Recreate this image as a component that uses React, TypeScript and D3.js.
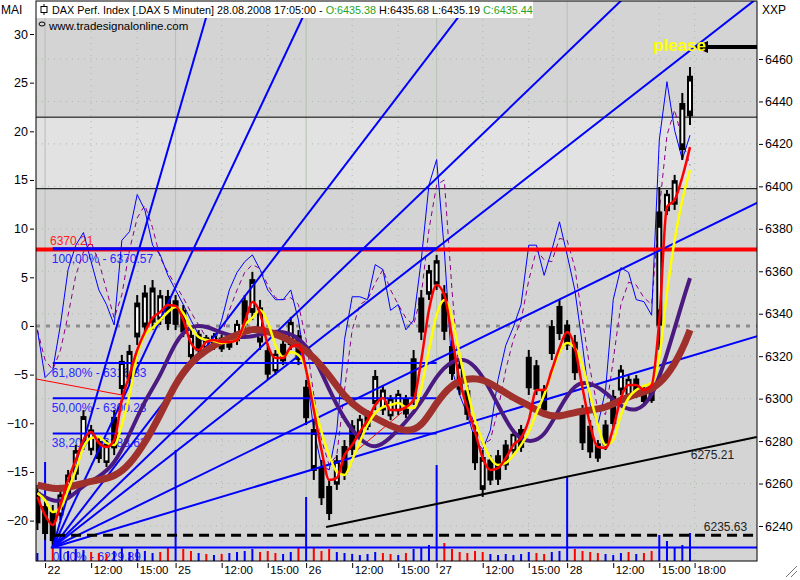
import React, { useEffect, useRef } from 'react';
import * as d3 from 'd3';

// 30 minute bars: index 0 = last bar of 21.08., days start at 1, 18, 35, 52, 69
const barHigh = [6259.3, 6252.2, 6249.9, 6257.0, 6266.4, 6278.2, 6294.6, 6287.6, 6281.9, 6280.5,
	6294.6, 6320.6, 6325.3, 6348.8, 6353.5, 6355.9, 6351.2, 6351.2, 6348.8, 6344.1,
	6332.3, 6332.3, 6330.0, 6330.9, 6330.0, 6330.0, 6337.0, 6348.8, 6359.7, 6346.5,
	6325.3, 6322.9, 6327.6, 6338.5, 6332.3, 6308.8, 6289.9, 6271.1, 6261.7, 6273.4,
	6280.5, 6289.9, 6292.3, 6294.6, 6313.5, 6306.4, 6301.7, 6304.1, 6301.7, 6322.9,
	6351.2, 6363.0, 6367.7, 6353.5, 6327.6, 6318.2, 6306.4, 6287.6, 6275.8, 6273.4,
	6275.8, 6280.5, 6285.2, 6287.6, 6322.9, 6318.2, 6306.4, 6337.0, 6346.5, 6337.0,
	6330.0, 6297.0, 6289.9, 6280.5, 6289.9, 6304.1, 6315.8, 6311.1, 6311.1, 6306.4,
	6304.1, 6399.7, 6398.3, 6405.4, 6444.0, 6456.2];
const barLow = [6238.1, 6233.4, 6229.9, 6242.8, 6252.2, 6261.7, 6275.8, 6273.4, 6269.7, 6267.8,
	6273.4, 6301.7, 6306.4, 6325.3, 6330.0, 6332.3, 6334.7, 6332.3, 6332.3, 6329.0,
	6317.3, 6320.6, 6322.9, 6322.9, 6322.0, 6322.9, 6325.3, 6332.3, 6337.0, 6322.9,
	6308.8, 6311.1, 6315.8, 6322.9, 6315.8, 6287.6, 6261.7, 6249.9, 6242.8, 6257.0,
	6261.7, 6273.4, 6280.5, 6285.2, 6294.6, 6292.3, 6289.9, 6292.3, 6290.9, 6297.0,
	6327.6, 6346.5, 6351.2, 6327.6, 6308.8, 6301.7, 6289.9, 6266.4, 6253.7, 6259.3,
	6259.3, 6266.4, 6273.4, 6274.9, 6301.7, 6301.7, 6292.3, 6318.2, 6327.6, 6322.9,
	6308.8, 6275.8, 6272.0, 6270.2, 6275.8, 6285.2, 6301.7, 6299.4, 6300.3, 6297.0,
	6298.0, 6322.9, 6386.5, 6388.9, 6412.4, 6428.9];
// red
const fastMA = [6253.7, 6245.2, 6240.5, 6249.9, 6261.7, 6271.1, 6280.5, 6284.3, 6279.1, 6277.2,
	6280.5, 6299.4, 6311.1, 6322.9, 6331.4, 6338.0, 6340.8, 6344.1, 6343.7, 6337.0,
	6326.2, 6322.9, 6326.7, 6327.6, 6326.7, 6326.7, 6327.6, 6336.1, 6345.5, 6340.3,
	6325.3, 6319.1, 6319.1, 6324.3, 6325.3, 6313.5, 6294.6, 6275.8, 6261.7, 6262.7,
	6273.4, 6278.2, 6284.3, 6289.9, 6297.0, 6300.3, 6294.6, 6294.6, 6296.0, 6299.4,
	6318.2, 6341.8, 6353.5, 6348.8, 6329.0, 6308.3, 6295.6, 6284.3, 6272.0, 6266.4,
	6267.3, 6272.0, 6278.2, 6281.5, 6289.9, 6304.1, 6304.1, 6313.5, 6323.9, 6331.4,
	6323.9, 6305.0, 6287.6, 6277.2, 6276.8, 6286.2, 6300.3, 6306.4, 6306.4, 6304.1,
	6306.4, 6337.0, 6390.3, 6393.6, 6404.4, 6418.5];
// yellow
const slowMA = [6255.5, 6252.2, 6246.6, 6248.5, 6257.0, 6266.4, 6277.2, 6281.5, 6281.9, 6279.1,
	6278.2, 6287.6, 6301.7, 6320.6, 6330.0, 6333.3, 6337.0, 6340.8, 6343.2, 6340.3,
	6333.3, 6329.0, 6327.6, 6327.2, 6326.2, 6326.7, 6327.6, 6334.7, 6338.0, 6341.8,
	6336.1, 6325.3, 6319.6, 6322.0, 6320.6, 6313.5, 6298.0, 6284.3, 6273.4, 6265.5,
	6264.0, 6271.1, 6279.6, 6287.6, 6293.2, 6296.0, 6297.0, 6297.9, 6296.0, 6295.6,
	6305.0, 6322.9, 6339.4, 6346.5, 6338.0, 6320.6, 6304.1, 6289.9, 6279.6, 6272.0,
	6268.7, 6269.7, 6273.4, 6278.2, 6284.3, 6293.2, 6301.7, 6312.5, 6321.9, 6326.2,
	6323.9, 6315.8, 6301.7, 6287.6, 6278.2, 6280.5, 6292.3, 6300.3, 6304.1, 6306.0,
	6307.4, 6319.6, 6349.8, 6374.7, 6393.6, 6407.7];
// hourly points of the two slow averages
const maBars = [0, 2, 4, 6, 8, 10, 12, 14, 16, 18, 20, 22, 24, 26, 28, 30, 32, 34, 36, 38, 40, 42,
	44, 46, 48, 50, 52, 54, 56, 58, 60, 62, 64, 66, 68, 70, 72, 74, 76, 78, 80, 82, 84, 85];
const purpleMA = [6255.5, 6251.3, 6252.2, 6259.3, 6263.1, 6268.7, 6283.0, 6299.4, 6310.2, 6327.6, 6334.7,
	6334.2, 6330.9, 6329.0, 6329.0, 6331.4, 6331.8, 6329.0, 6320.6, 6304.1, 6289.9, 6280.5,
	6275.8, 6281.5, 6289.0, 6298.0, 6311.1, 6318.2, 6319.1, 6311.1, 6297.0, 6282.9, 6279.1,
	6281.5, 6295.6, 6307.4, 6307.8, 6303.1, 6296.0, 6293.7, 6299.4, 6320.6, 6345.5, 6356.8];
const brownMA = [6259.3, 6257.4, 6257.9, 6260.3, 6261.7, 6263.1, 6268.7, 6279.1, 6292.3, 6307.4, 6317.3,
	6322.9, 6327.2, 6330.0, 6333.3, 6331.8, 6329.0, 6325.3, 6319.6, 6311.1, 6300.8, 6294.6,
	6290.9, 6287.1, 6284.3, 6286.2, 6298.4, 6306.9, 6309.7, 6309.3, 6305.0, 6300.3, 6297.0,
	6292.3, 6291.3, 6293.7, 6294.6, 6295.6, 6299.4, 6302.2, 6304.1, 6310.2, 6322.9, 6332.3];
// MA oscillator (left scale)
const oscLine = [-0.4, -5.3, -4.5, 0.1, 5.8, 8.3, 9.6, 6.6, 3.7, 2.2,
	0.1, 8.8, 9.7, 13.5, 11.9, 8.3, 7.3, 5.2, 3.7, 2.2,
	0.6, -0.9, -2.0, -2.0, 0.6, 3.7, 5.5, 6.6, 7.3, 5.8,
	3.7, 2.7, 2.7, 3.7, 0.6, -4.5, -10.7, -14.3, -14.8, -10.7,
	-1.4, 3.0, 3.0, 2.7, 6.3, 5.8, 1.6, 2.2, -0.4, 0.6,
	6.8, 14.5, 17.1, 7.8, -4.5, -7.1, -9.1, -11.7, -12.7, -10.7,
	-5.5, -2.0, -0.1, 2.2, 8.3, 8.3, 5.2, 7.8, 10.7, 7.3,
	3.7, -2.0, -8.1, -10.2, -6.6, 2.7, 6.0, 5.5, 2.7, 2.5,
	1.1, 19.1, 25.1, 20.1, 17.1, 19.6];
const oscSignal = [-0.4, -3.5, -4.5, -2.5, 1.1, 5.2, 7.6, 8.6, 6.6, 3.7,
	0.8, 3.2, 7.8, 11.1, 12.4, 10.1, 7.0, 5.5, 4.2, 2.9,
	1.4, 0.1, -1.2, -1.6, -0.9, 1.6, 3.7, 5.5, 6.3, 5.9,
	4.2, 2.9, 2.7, 2.9, 2.2, -1.4, -7.1, -11.7, -14.3, -13.3,
	-6.6, -0.4, 2.2, 2.7, 4.4, 5.8, 3.7, 2.2, 0.8, 0.1,
	3.2, 9.9, 14.5, 15.0, 3.7, -5.5, -8.1, -10.2, -12.2, -11.7,
	-8.6, -4.5, -1.4, 0.6, 4.7, 7.8, 6.8, 6.6, 9.0, 8.8,
	6.0, 0.6, -4.5, -8.6, -9.1, -3.5, 2.2, 4.5, 4.2, 2.9,
	2.2, 11.9, 19.6, 22.2, 19.1, 16.5];
const volume = [8, 99, 22, 14, 10, 12, 11, 9, 8, 7,
	10, 14, 9, 12, 10, 8, 9, 14, 111, 12,
	10, 8, 7, 6, 7, 8, 9, 10, 12, 9,
	10, 8, 7, 9, 14, 64, 14, 10, 12, 9,
	8, 7, 6, 7, 9, 8, 7, 6, 8, 12,
	14, 16, 96, 18, 12, 9, 8, 10, 9, 7,
	6, 7, 6, 7, 9, 8, 7, 9, 10, 84,
	12, 10, 9, 8, 7, 6, 8, 9, 7, 8,
	10, 26, 20, 14, 16, 28];

const xTickBars = [1, 7, 13, 18, 24, 30, 35, 41, 47, 52, 58, 64, 69, 75, 81, 85.6];
const xTickLabels = ['22', '12:00', '15:00', '25', '12:00', '15:00', '26', '12:00', '15:00', '27',
	'12:00', '15:00', '28', '12:00', '15:00', '18:00'];
const priceTicks = [6240, 6260, 6280, 6300, 6320, 6340, 6360, 6380, 6400, 6420, 6440, 6460];
const oscTicks = [30, 25, 20, 15, 10, 5, 0, -5, -10, -15, -20];

// drawings
const fibLow = 6229.89;
const fibHigh = 6370.57;
const fibLevels = [1, 0.618, 0.5, 0.382];
const fibLabels = ['100,00%', '61,80%', '50,00%', '38,20%'];
const fanOrigin = { bar: 2, price: 6229.89 };
const fanSlopes = [12.5, 7.67, 4.73, 3.48, 2.82, 1.77, 1.085]; // points per bar
const redLevel = 6370.21;
const dashedLevel = 6235.63;
const zoneTop = 6432.6;
const zoneBottom = 6398.9;
const trendLine = [{ bar: 37.6, price: 6239.5 }, { bar: 93.7, price: 6281.9 }];
const redTrend1 = [{ bar: -0.2, price: 6309.3 }, { bar: 11, price: 6301.7 }];
const redTrend2 = [{ bar: 41.5, price: 6275.3 }, { bar: 47.5, price: 6293.6 }];

const FONT = "'Liberation Sans', Arial, sans-serif";

const App = () => {
	const ref = useRef<SVGSVGElement>(null);
	useEffect(() => drawChart(), []);

	function drawChart() {
		const svg = d3.select(ref.current);
		svg.selectAll('*').remove();
		const left = 36, right = 757, top = 1, bottom = 561;

		const x = d3.scaleLinear().domain([0, 85]).range([37.4, 690]);
		const yP = d3.scaleLinear().domain([6240, 6460]).range([526, 59]);
		const yO = d3.scaleLinear().domain([-20, 30]).range([520.6, 34]);
		const yV = d3.scaleLinear().domain([0, 100]).range([561, 461]);
		const lastBar = x.invert(right);

		svg.append('rect').attr('width', 800).attr('height', 580).attr('fill', '#fff');
		svg.append('defs').append('clipPath').attr('id', 'plot')
			.append('rect').attr('x', left).attr('y', top).attr('width', right - left).attr('height', bottom - top);

		const plot = svg.append('g').attr('clip-path', 'url(#plot)');
		plot.append('rect').attr('x', left).attr('y', top).attr('width', right - left).attr('height', bottom - top)
			.attr('fill', '#d4d4d4');
		plot.append('rect').attr('x', left).attr('y', yP(zoneTop)).attr('width', right - left)
			.attr('height', yP(zoneBottom) - yP(zoneTop)).attr('fill', '#e2e2e2');

		// grid
		plot.selectAll('.hgrid').data(priceTicks).enter().append('line')
			.attr('x1', left).attr('x2', right).attr('y1', (d) => yP(d)).attr('y2', (d) => yP(d))
			.attr('stroke', '#a9b9a9').attr('stroke-dasharray', '1,5');
		plot.selectAll('.vgrid').data(xTickBars).enter().append('line')
			.attr('x1', (d) => x(d)).attr('x2', (d) => x(d)).attr('y1', top).attr('y2', bottom)
			.attr('stroke', (d, i) => xTickLabels[i].length == 2 ? '#b4c2b0' : '#a9b9a9')
			.attr('stroke-dasharray', (d, i) => xTickLabels[i].length == 2 ? null : '1,5');

		[zoneTop, zoneBottom].forEach((p) => {
			plot.append('line').attr('x1', left).attr('x2', right).attr('y1', yP(p)).attr('y2', yP(p))
				.attr('stroke', '#000').attr('stroke-width', 1);
		});

		// fib labels under the candles
		fibLevels.forEach((f, i) => {
			const p = fibLow + f * (fibHigh - fibLow);
			plot.append('text').attr('x', x(fanOrigin.bar) - 1).attr('y', yP(p) + 14)
				.attr('font-family', FONT).attr('font-size', '12px').attr('fill', '#2828ff')
				.text(fibLabels[i] + ' - ' + p.toFixed(2));
		});
		plot.append('text').attr('x', x(fanOrigin.bar)).attr('y', yP(fibLow) + 14)
			.attr('font-family', FONT).attr('font-size', '12px').attr('fill', '#2828ff')
			.text('0,00% - ' + fibLow.toFixed(2));
		plot.append('text').attr('x', 50).attr('y', yP(redLevel) - 5)
			.attr('font-family', FONT).attr('font-size', '12px').attr('fill', '#ff2020')
			.text(redLevel.toFixed(2));

		// volume
		plot.selectAll('.vol').data(volume).enter().append('rect')
			.attr('x', (d, i) => x(i) - 1).attr('width', 2)
			.attr('y', (d) => yV(d)).attr('height', (d) => yV(0) - yV(d))
			.attr('fill', (d, i) => d > 40 || i == 0 || barHigh[i] + barLow[i] >= barHigh[i - 1] + barLow[i - 1] ? '#0000ff' : '#ff0000');

		// oscillator
		const oscPath = d3.line<number>().x((d, i) => x(i)).y((d) => yO(d));
		plot.append('line').attr('x1', left).attr('x2', right).attr('y1', yO(0)).attr('y2', yO(0))
			.attr('stroke', '#8c8c8c').attr('stroke-width', 3).attr('stroke-dasharray', '4,6');
		plot.append('path').attr('d', oscPath(oscSignal)).attr('fill', 'none')
			.attr('stroke', '#8b008b').attr('stroke-width', 1).attr('stroke-dasharray', '5,4');
		plot.append('path').attr('d', oscPath(oscLine)).attr('fill', 'none')
			.attr('stroke', '#0000ff').attr('stroke-width', 1);

		// candles: black body, rising bars get a white core
		const candles = plot.selectAll('.bar').data(barHigh).enter().append('g');
		candles.append('line')
			.attr('x1', (d, i) => x(i)).attr('x2', (d, i) => x(i))
			.attr('y1', (d) => yP(d)).attr('y2', (d, i) => yP(barLow[i]))
			.attr('stroke', '#000').attr('stroke-width', 2);
		candles.append('rect')
			.attr('x', (d, i) => x(i) - 3).attr('width', 6)
			.attr('y', (d, i) => yP(d) + (yP(barLow[i]) - yP(d)) * 0.15)
			.attr('height', (d, i) => (yP(barLow[i]) - yP(d)) * 0.7)
			.attr('fill', '#000');
		candles.filter((d, i) => i > 0 && fastMA[i] > fastMA[i - 1]).append('rect')
			.attr('x', (d, i, n) => x(barHigh.indexOf(d)) - 1).attr('width', 2)
			.attr('y', (d) => yP(d) + (yP(barLow[barHigh.indexOf(d)]) - yP(d)) * 0.25)
			.attr('height', (d) => (yP(barLow[barHigh.indexOf(d)]) - yP(d)) * 0.5)
			.attr('fill', '#fff');

		// fib lines, red level, gann fan
		fibLevels.forEach((f) => {
			const p = fibLow + f * (fibHigh - fibLow);
			plot.append('line').attr('x1', x(fanOrigin.bar)).attr('x2', x(52)).attr('y1', yP(p)).attr('y2', yP(p))
				.attr('stroke', '#0000ff').attr('stroke-width', 2);
		});
		plot.append('line').attr('x1', left).attr('x2', right).attr('y1', yP(redLevel)).attr('y2', yP(redLevel))
			.attr('stroke', '#ff0000').attr('stroke-width', 4);
		plot.append('line').attr('x1', x(fanOrigin.bar)).attr('x2', x(52)).attr('y1', yP(fibHigh)).attr('y2', yP(fibHigh))
			.attr('stroke', '#0000ff').attr('stroke-width', 3);
		plot.append('line').attr('x1', x(fanOrigin.bar) - 2).attr('x2', right).attr('y1', yP(fibLow)).attr('y2', yP(fibLow))
			.attr('stroke', '#0000ff').attr('stroke-width', 2);
		fanSlopes.forEach((s) => {
			const endBar = 140;
			plot.append('line')
				.attr('x1', x(fanOrigin.bar)).attr('y1', yP(fanOrigin.price))
				.attr('x2', x(endBar)).attr('y2', yP(fanOrigin.price + s * (endBar - fanOrigin.bar)))
				.attr('stroke', '#0000ff').attr('stroke-width', 2);
		});

		const seg = (pts: { bar: number, price: number }[], color: string, w: number, dash?: string) => {
			plot.append('line').attr('x1', x(pts[0].bar)).attr('y1', yP(pts[0].price))
				.attr('x2', x(pts[1].bar)).attr('y2', yP(pts[1].price))
				.attr('stroke', color).attr('stroke-width', w).attr('stroke-dasharray', dash || null);
		};
		seg(trendLine, '#000', 2);
		seg(redTrend1, '#ff0000', 1);
		seg(redTrend2, '#ff0000', 1);
		seg([{ bar: 2.3, price: dashedLevel }, { bar: lastBar, price: dashedLevel }], '#000', 3, '10,6');

		// moving averages
		const maLine = d3.line<number>().x((d, i) => x(maBars[i])).y((d) => yP(d)).curve(d3.curveBasis);
		const barLine = d3.line<number>().x((d, i) => x(i)).y((d) => yP(d)).curve(d3.curveMonotoneX);
		plot.append('path').attr('d', maLine(purpleMA)).attr('fill', 'none')
			.attr('stroke', '#4b1a80').attr('stroke-width', 4);
		plot.append('path').attr('d', maLine(brownMA)).attr('fill', 'none')
			.attr('stroke', '#a0302c').attr('stroke-width', 7);
		plot.append('path').attr('d', barLine(slowMA)).attr('fill', 'none')
			.attr('stroke', '#ffff00').attr('stroke-width', 2.5);
		plot.append('path').attr('d', barLine(fastMA)).attr('fill', 'none')
			.attr('stroke', '#ff0000').attr('stroke-width', 2.5);

		// texts on the chart
		const label = (txt: string, bar: number, p: number, dy: number) => {
			plot.append('text').attr('x', x(bar)).attr('y', yP(p) + dy)
				.attr('font-family', FONT).attr('font-size', '12px').attr('fill', '#222').text(txt);
		};
		label('6275.21', 85.1, 6275.21, 8);
		label('6235.63', 86.8, dashedLevel, -4);

		plot.append('rect').attr('x', 705).attr('y', 45).attr('width', 55).attr('height', 4).attr('fill', '#000');
		plot.append('path').attr('d', 'M694,47 L708,41 L708,53 Z').attr('fill', '#000');
		plot.append('text').attr('x', 653).attr('y', 51).attr('font-family', FONT).attr('font-weight', 'bold')
			.attr('font-size', '17px').attr('fill', '#ffff00').text('please');

		// title box
		plot.append('rect').attr('x', left).attr('y', top).attr('width', 497).attr('height', 17).attr('fill', '#fff');
		plot.append('line').attr('x1', 44).attr('x2', 44).attr('y1', 4).attr('y2', 15).attr('stroke', '#000');
		plot.append('rect').attr('x', 41).attr('y', 6.5).attr('width', 6).attr('height', 6).attr('fill', '#fff').attr('stroke', '#000');
		const title = plot.append('text').attr('x', 52).attr('y', 14).attr('font-family', FONT).attr('font-size', '10.8px');
		title.append('tspan').attr('fill', '#000').text('DAX Perf. Index [.DAX  5 Minuten] 28.08.2008 17:05:00 - ');
		title.append('tspan').attr('fill', '#1fa51f').text('O:6435.38');
		title.append('tspan').attr('fill', '#000').text(' H:6435.68 L:6435.19 ');
		title.append('tspan').attr('fill', '#1fa51f').text('C:6435.44');
		plot.append('ellipse').attr('cx', 42).attr('cy', 24).attr('rx', 3).attr('ry', 2)
			.attr('fill', 'none').attr('stroke', '#000');
		plot.append('text').attr('x', 49).attr('y', 30).attr('font-family', FONT).attr('font-size', '11.5px')
			.attr('fill', '#000').text('www.tradesignalonline.com');

		// frame
		svg.append('rect').attr('x', left).attr('y', top).attr('width', right - left).attr('height', bottom - top)
			.attr('fill', 'none').attr('stroke', '#000').attr('stroke-width', 1);

		// axes
		const rightAxis = svg.append('g').attr('transform', 'translate(759,0)')
			.call(d3.axisRight(yP).tickValues(priceTicks).tickSize(4).tickPadding(2).tickFormat(d3.format('d')));
		const leftAxis = svg.append('g').attr('transform', 'translate(34,0)')
			.call(d3.axisLeft(yO).tickValues(oscTicks).tickSize(4).tickPadding(2));
		const bottomAxis = svg.append('g').attr('transform', 'translate(0,' + (bottom + 2) + ')')
			.call(d3.axisBottom(x).tickValues(xTickBars).tickSize(5).tickFormat((d, i) => xTickLabels[i]));
		[rightAxis, leftAxis, bottomAxis].forEach((a) => {
			a.select('.domain').remove();
			a.selectAll('text').attr('font-family', FONT).attr('fill', '#000');
			a.selectAll('line').attr('stroke', '#000');
		});
		rightAxis.selectAll('text').attr('font-size', '12.5px');
		leftAxis.selectAll('text').attr('font-size', '12.5px');
		bottomAxis.selectAll('text').attr('font-size', '11.5px').attr('text-anchor', 'start')
			.attr('x', 2).attr('y', 3);

		svg.append('text').attr('x', 1).attr('y', 14).attr('font-family', FONT).attr('font-size', '12px').text('MAI');
		svg.append('text').attr('x', 762).attr('y', 14).attr('font-family', FONT).attr('font-size', '12px').text('XXP');
		svg.append('path').attr('d', 'M786,577 L797,566 M791,577 L797,571').attr('stroke', '#777').attr('fill', 'none');
	}

	return <svg ref={ref} width={800} height={580} style={{ position: 'absolute', left: 0, top: 0 }} />;
};

export default App;
